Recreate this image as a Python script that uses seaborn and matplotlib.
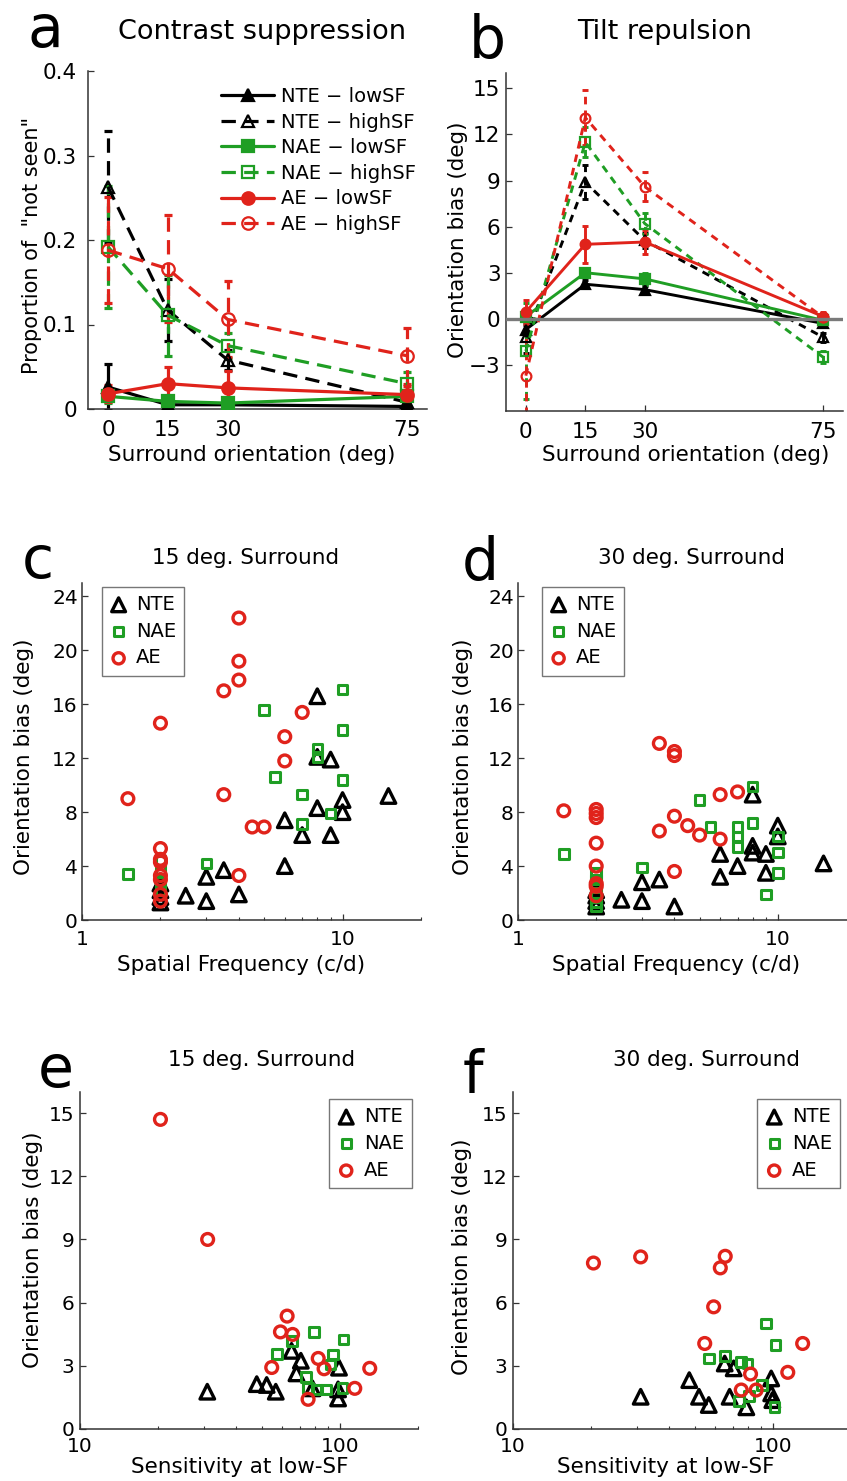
import numpy as np
import pandas as pd
import matplotlib
matplotlib.use("Agg")
import matplotlib.pyplot as plt
import seaborn as sns
from matplotlib.ticker import FixedLocator, FixedFormatter, NullFormatter, LogLocator

# ---------------- data ----------------
groups = ["NTE", "NAE", "AE"]
surround = [0, 15, 30, 75]

# panel a : proportion "not seen"
a_nte_low = [0.026, 0.005, 0.005, 0.003]
a_nte_low_err = [0.027, 0.003, 0.003, 0.002]
a_nte_high = [0.263, 0.117, 0.058, 0.008]
a_nte_high_err = [0.066, 0.037, 0.012, 0.004]
a_nae_low = [0.015, 0.009, 0.007, 0.015]
a_nae_low_err = [0.008, 0.005, 0.004, 0.006]
a_nae_high = [0.192, 0.111, 0.075, 0.030]
a_nae_high_err = [0.072, 0.048, 0.015, 0.014]
a_ae_low = [0.018, 0.030, 0.025, 0.017]
a_ae_low_err = [0.010, 0.020, 0.020, 0.010]
a_ae_high = [0.188, 0.166, 0.106, 0.063]
a_ae_high_err = [0.063, 0.063, 0.045, 0.033]

# panel b : orientation bias (deg)
b_nte_low = [-0.7, 2.25, 1.9, -0.3]
b_nte_low_err = [0.3, 0.25, 0.25, 0.2]
b_nte_high = [-1.2, 8.9, 5.1, -1.2]
b_nte_high_err = [1.0, 1.1, 0.5, 0.3]
b_nae_low = [0.15, 3.0, 2.6, -0.1]
b_nae_low_err = [0.3, 0.3, 0.4, 0.2]
b_nae_high = [-2.1, 11.5, 6.2, -2.5]
b_nae_high_err = [3.1, 1.0, 0.7, 0.4]
b_ae_low = [0.45, 4.85, 5.0, 0.15]
b_ae_low_err = [0.8, 1.2, 0.8, 0.3]
b_ae_high = [-3.7, 13.1, 8.6, 0.1]
b_ae_high_err = [4.3, 1.8, 0.95, 0.3]

# panel c : 15 deg surround, bias vs spatial frequency
c_nte_sf = [2, 2, 2, 2, 2.5, 3, 3, 3.5, 4, 6, 6, 7, 8, 8, 8, 9, 9, 10, 10, 15]
c_nte_bias = [1.3, 1.7, 2.2, 2.7, 1.8, 1.4, 3.2, 3.7, 1.9, 4.0, 7.4, 6.3, 8.3, 16.6, 12.1, 11.9, 6.3, 8.9, 8.0, 9.2]
c_nae_sf = [1.5, 2, 2, 2, 2, 3, 5, 5.5, 7, 7, 8, 8, 9, 10, 10, 10]
c_nae_bias = [3.4, 2.2, 2.8, 3.7, 4.4, 4.2, 15.6, 10.6, 9.3, 7.1, 12.7, 12.1, 7.9, 17.1, 14.1, 10.4]
c_ae_sf = [1.5, 2, 2, 2, 2, 2, 2, 2, 2, 3.5, 3.5, 4, 4, 4, 4, 4.5, 5, 6, 6, 7]
c_ae_bias = [9.0, 14.6, 5.3, 4.5, 4.3, 3.3, 3.0, 1.9, 1.4, 17.0, 9.3, 22.4, 19.2, 17.8, 3.3, 6.9, 6.9, 13.6, 11.8, 15.4]

# panel d : 30 deg surround, bias vs spatial frequency
d_nte_sf = [2, 2, 2, 2, 2.5, 3, 3, 3.5, 4, 6, 6, 7, 8, 8, 8, 9, 9, 10, 10, 15]
d_nte_bias = [1.0, 1.4, 1.8, 2.2, 1.5, 1.4, 2.8, 3.0, 1.0, 4.9, 3.2, 4.0, 9.3, 5.5, 5.0, 4.9, 3.5, 7.0, 6.2, 4.2]
d_nae_sf = [1.5, 2, 2, 2, 2, 2, 2, 2, 3, 5, 5.5, 7, 7, 7, 8, 8, 9, 10, 10, 10]
d_nae_bias = [4.9, 1.0, 1.3, 1.7, 2.0, 2.5, 3.0, 3.5, 3.9, 8.9, 6.9, 6.9, 6.2, 5.4, 9.9, 7.2, 1.9, 6.2, 5.0, 3.5]
d_ae_sf = [1.5, 2, 2, 2, 2, 2, 2, 2, 2, 3.5, 3.5, 4, 4, 4, 4, 4.5, 5, 6, 6, 7]
d_ae_bias = [8.1, 8.2, 7.9, 7.6, 5.7, 4.0, 2.7, 2.5, 1.8, 13.1, 6.6, 12.5, 12.2, 7.7, 3.6, 7.0, 6.3, 9.3, 6.0, 9.5]

# panel e : 15 deg surround, bias vs sensitivity at low SF
e_nte_sens = [30.9, 47.9, 52.3, 56.7, 65.2, 70.8, 68.1, 78.5, 99.3, 98.5, 98.5]
e_nte_bias = [1.77, 2.13, 2.09, 1.77, 3.71, 3.24, 2.64, 1.93, 2.91, 1.88, 1.45]
e_nae_sens = [79.6, 103.2, 57.2, 65.6, 94.2, 92.0, 74.0, 75.3, 81.8, 88.4, 102.4]
e_nae_bias = [4.61, 4.25, 3.55, 4.18, 3.54, 3.07, 2.48, 1.96, 1.88, 1.88, 1.96]
e_ae_sens = [20.4, 31.0, 62.7, 59.1, 65.8, 54.7, 82.6, 87.0, 130.4, 114.2, 75.5]
e_ae_bias = [14.7, 9.0, 5.36, 4.61, 4.49, 2.92, 3.35, 2.86, 2.88, 1.93, 1.41]

# panel f : 30 deg surround, bias vs sensitivity at low SF
f_nte_sens = [31.0, 47.7, 52.0, 56.7, 65.3, 70.7, 68.2, 79.1, 98.6, 98.6, 99.6]
f_nte_bias = [1.53, 2.32, 1.53, 1.14, 3.11, 2.88, 1.53, 1.03, 2.40, 1.69, 1.37]
f_nae_sens = [94.4, 102.4, 56.7, 65.3, 75.6, 79.8, 91.0, 74.1, 81.0, 101.6]
f_nae_bias = [5.01, 3.98, 3.35, 3.46, 3.19, 3.11, 2.09, 1.34, 1.56, 1.03]
f_ae_sens = [20.4, 31.0, 65.6, 62.8, 59.2, 54.7, 130.3, 114.2, 82.1, 75.6, 86.3]
f_ae_bias = [7.88, 8.17, 8.2, 7.65, 5.80, 4.06, 4.06, 2.69, 2.61, 1.85, 1.85]

# ---------------- style ----------------
sns.set_style("ticks")
plt.rcParams["font.family"] = ["DejaVu Sans"]
plt.rcParams["axes.unicode_minus"] = True
plt.rcParams["text.color"] = "black"
plt.rcParams["axes.labelcolor"] = "black"
plt.rcParams["xtick.labelcolor"] = "black"
plt.rcParams["ytick.labelcolor"] = "black"

BLACK = "#000000"
GREEN = "#1f9e24"
RED = "#e0231b"
colors = {"NTE": BLACK, "NAE": GREEN, "AE": RED}
line_markers = {"NTE": "^", "NAE": "s", "AE": "o"}
scat_markers = {"NTE": "^", "NAE": "s", "AE": "o"}
SPINE = "#333333"

W, H = 847, 1481
fig = plt.figure(figsize=(W / 100, H / 100), dpi=100)


def add_axes(left, top, right, bottom):
    return fig.add_axes([left / W, 1 - bottom / H, (right - left) / W, (bottom - top) / H])


def ftext(x, y, s, **kw):
    fig.text(x / W, 1 - y / H, s, ha="center", va="center", color="black", **kw)


def style_axes(ax, fs, ypad=4, xpad=7):
    sns.despine(ax=ax)
    for sp in ["left", "bottom"]:
        ax.spines[sp].set_color(SPINE)
        ax.spines[sp].set_linewidth(1.1)
    ax.tick_params(which="major", direction="in", length=4, width=0.9, color=SPINE,
                   labelsize=fs, labelcolor="black")
    ax.tick_params(axis="y", which="major", pad=ypad)
    ax.tick_params(axis="x", which="major", pad=xpad)
    ax.tick_params(which="minor", direction="in", length=2.2, width=0.8, color=SPINE)


def set_labels(ax, axpos, xlabel, ylabel, xlab_xy, ylab_xy, fs, yfs=None):
    left, top, right, bottom = axpos
    ax.set_xlabel(xlabel, fontsize=fs, color="black")
    ax.set_ylabel(ylabel, fontsize=yfs or fs, color="black")
    ax.xaxis.set_label_coords((xlab_xy[0] - left) / (right - left), (bottom - xlab_xy[1]) / (bottom - top))
    ax.yaxis.set_label_coords((ylab_xy[0] - left) / (right - left), (bottom - ylab_xy[1]) / (bottom - top))
    ax.xaxis.label.set_va("center")
    ax.yaxis.label.set_va("center")


# ---------------- panel a & b (line plots) ----------------
def line_panel(ax, series, lw, ms, dash, cap):
    for name, low, low_err, high, high_err in series:
        c = colors[name]
        m = line_markers[name]
        for vals, errs, style, filled, tag in [(low, low_err, "-", True, "lowSF"),
                                               (high, high_err, dash, False, "highSF")]:
            eb = ax.errorbar(surround, vals, yerr=errs, fmt="none", ecolor=c,
                             elinewidth=lw, capsize=cap, capthick=lw, zorder=2)
            eb[2][0].set_linestyle(style)
            sns.lineplot(x=surround, y=vals, ax=ax, color=c, linewidth=lw,
                         linestyle=style, marker=m, markersize=ms,
                         markerfacecolor=c if filled else "none",
                         markeredgecolor=c, markeredgewidth=1.6,
                         label=f"{name} \u2212 {tag}", legend=False, zorder=3)


# panel a
posA = (88, 71, 427, 409)
axA = add_axes(*posA)
line_panel(axA, [("NTE", a_nte_low, a_nte_low_err, a_nte_high, a_nte_high_err),
                 ("NAE", a_nae_low, a_nae_low_err, a_nae_high, a_nae_high_err),
                 ("AE", a_ae_low, a_ae_low_err, a_ae_high, a_ae_high_err)],
           lw=2.3, ms=9, dash=(0, (4.5, 2.6)), cap=3)
axA.set_xlim(-5, 80)
axA.set_ylim(0, 0.4)
axA.set_xticks(surround)
axA.set_yticks([0, 0.1, 0.2, 0.3, 0.4])
axA.set_yticklabels(["0", "0.1", "0.2", "0.3", "0.4"])
style_axes(axA, 15.5, ypad=8, xpad=8)
set_labels(axA, posA, "Surround orientation (deg)", "Proportion of  \"not seen\"",
           (252, 455), (32, 245), 15.5, 15)
handles, labels = axA.get_legend_handles_labels()
legA = axA.legend(handles, labels, loc="upper left", bbox_to_anchor=(221 / W, 1 - 87 / H),
                  bbox_transform=fig.transFigure, frameon=False, fontsize=14,
                  handlelength=2.75, handletextpad=0.35, labelspacing=0.34, borderaxespad=0, borderpad=0)
for t in legA.get_texts():
    t.set_color("black")

# panel b
posB = (506, 73, 843, 411)
axB = add_axes(*posB)
axB.axhline(0, color="#7a7a7a", linewidth=2.4, zorder=4)
line_panel(axB, [("NTE", b_nte_low, b_nte_low_err, b_nte_high, b_nte_high_err),
                 ("NAE", b_nae_low, b_nae_low_err, b_nae_high, b_nae_high_err),
                 ("AE", b_ae_low, b_ae_low_err, b_ae_high, b_ae_high_err)],
           lw=2.1, ms=7, dash=(0, (2.6, 2.1)), cap=2.5)
axB.set_xlim(-5, 80)
axB.set_ylim(-6, 16)
axB.set_xticks(surround)
axB.set_yticks([-3, 0, 3, 6, 9, 12, 15])
style_axes(axB, 15.5, ypad=4, xpad=8)
set_labels(axB, posB, "Surround orientation (deg)", "Orientation bias (deg)",
           (686, 455), (458, 240), 15.5)


# ---------------- scatter panels ----------------
def scatter_panel(ax, data):
    sizes = {"NTE": 110, "NAE": 48, "AE": 72}
    lws = {"NTE": 2.4, "NAE": 2.2, "AE": 2.4}
    for name, xs, ys in data:
        c = colors[name]
        sns.scatterplot(x=xs, y=ys, ax=ax, marker=scat_markers[name], s=sizes[name],
                        color=c, facecolor="none", edgecolor=c, linewidth=lws[name],
                        label=name, legend=False, zorder=3)


def log_ticks(ax, majors):
    ax.set_xscale("log")
    ax.xaxis.set_major_locator(FixedLocator(majors))
    ax.xaxis.set_major_formatter(FixedFormatter([str(m) for m in majors]))
    ax.xaxis.set_minor_locator(LogLocator(base=10, subs=np.arange(2, 10)))
    ax.xaxis.set_minor_formatter(NullFormatter())


def scatter_legend(ax, anchor, loc):
    handles, labels = ax.get_legend_handles_labels()
    leg = ax.legend(handles, labels, loc=loc, bbox_to_anchor=(anchor[0] / W, 1 - anchor[1] / H),
                    bbox_transform=fig.transFigure, frameon=True, fancybox=False, fontsize=14,
                    handlelength=0.9, handletextpad=0.45, labelspacing=0.4,
                    borderaxespad=0, borderpad=0.42, markerscale=0.95)
    leg.get_frame().set_edgecolor("#555555")
    leg.get_frame().set_linewidth(1.0)
    for t in leg.get_texts():
        t.set_color("black")


posC = (82, 583, 421, 920)
axC = add_axes(*posC)
scatter_panel(axC, [("NTE", c_nte_sf, c_nte_bias), ("NAE", c_nae_sf, c_nae_bias),
                    ("AE", c_ae_sf, c_ae_bias)])
log_ticks(axC, [1, 10])
axC.set_xlim(1, 20)
axC.set_ylim(0, 25)
axC.set_yticks([0, 4, 8, 12, 16, 20, 24])
style_axes(axC, 14.5, ypad=3, xpad=7)
set_labels(axC, posC, "Spatial Frequency (c/d)", "Orientation bias (deg)", (241, 965), (24, 757), 15.5)
scatter_legend(axC, (101.7, 586.7), "upper left")

posD = (518, 583, 856, 920)
axD = add_axes(*posD)
scatter_panel(axD, [("NTE", d_nte_sf, d_nte_bias), ("NAE", d_nae_sf, d_nae_bias),
                    ("AE", d_ae_sf, d_ae_bias)])
log_ticks(axD, [1, 10])
axD.set_xlim(1, 20)
axD.set_ylim(0, 25)
axD.set_yticks([0, 4, 8, 12, 16, 20, 24])
style_axes(axD, 14.5, ypad=3, xpad=7)
set_labels(axD, posD, "Spatial Frequency (c/d)", "Orientation bias (deg)", (676, 965), (463, 757), 15.5)
scatter_legend(axD, (541.7, 586.7), "upper left")

posE = (80, 1092, 418, 1429)
axE = add_axes(*posE)
scatter_panel(axE, [("NTE", e_nte_sens, e_nte_bias), ("NAE", e_nae_sens, e_nae_bias),
                    ("AE", e_ae_sens, e_ae_bias)])
log_ticks(axE, [10, 100])
axE.set_xlim(10, 200)
axE.set_ylim(0, 16)
axE.set_yticks([0, 3, 6, 9, 12, 15])
style_axes(axE, 14.5, ypad=4, xpad=6)
set_labels(axE, posE, "Sensitivity at low-SF", "Orientation bias (deg)", (240, 1467), (33, 1250), 15.5)
scatter_legend(axE, (412, 1099), "upper right")

posF = (513, 1092, 851, 1429)
axF = add_axes(*posF)
scatter_panel(axF, [("NTE", f_nte_sens, f_nte_bias), ("NAE", f_nae_sens, f_nae_bias),
                    ("AE", f_ae_sens, f_ae_bias)])
log_ticks(axF, [10, 100])
axF.set_xlim(10, 200)
axF.set_ylim(0, 16)
axF.set_yticks([0, 3, 6, 9, 12, 15])
style_axes(axF, 14.5, ypad=4, xpad=6)
set_labels(axF, posF, "Sensitivity at low-SF", "Orientation bias (deg)", (666, 1467), (462, 1257), 15.5)
scatter_legend(axF, (840, 1099), "upper right")

# ---------------- titles & panel letters ----------------
ftext(262, 32, "Contrast suppression", fontsize=19.5)
ftext(665, 32, "Tilt repulsion", fontsize=19.5)
ftext(246, 558, "15 deg. Surround", fontsize=15.5)
ftext(691, 558, "30 deg. Surround", fontsize=15.5)
ftext(262, 1060, "15 deg. Surround", fontsize=15.5)
ftext(706, 1060, "30 deg. Surround", fontsize=15.5)

for letter, x, y in [("a", 45, 47), ("b", 487, 58), ("c", 38, 578), ("d", 480, 580),
                     ("e", 56, 1087), ("f", 473, 1092)]:
    fig.text(x / W, 1 - y / H, letter, ha="center", va="baseline", fontsize=42, color="black")

fig.savefig("out.png", dpi=100)
